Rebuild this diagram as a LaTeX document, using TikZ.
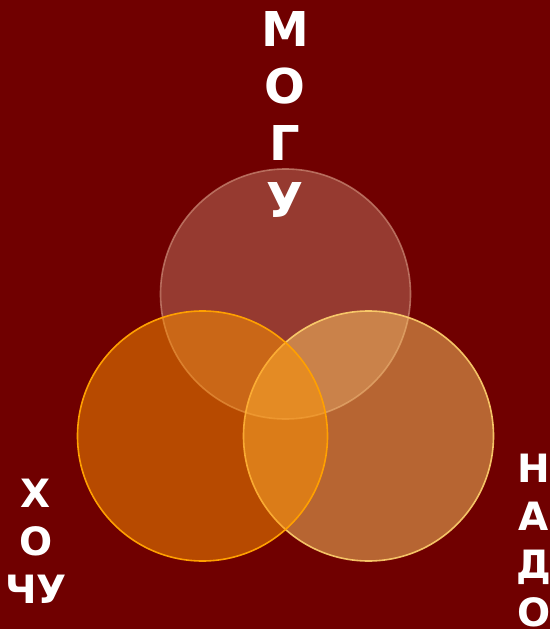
\documentclass[tikz,border=0pt]{standalone}
\usepackage{fontspec}
\setmainfont{DejaVu Sans}
\begin{document}
\begin{tikzpicture}[x=1pt,y=-1pt,
  venn/.style={fill opacity=0.5, line width=1.6pt},
  bigword/.style={text=white, font=\fontsize{48}{57}\selectfont\bfseries, anchor=base, inner sep=0pt},
  smallword/.style={text=white, font=\fontsize{39}{48}\selectfont\bfseries, anchor=base, inner sep=0pt}]
\definecolor{bgred}{RGB}{112,0,0}
\definecolor{topfill}{RGB}{188,116,96}
\definecolor{topline}{RGB}{205,140,120}
\definecolor{leftfill}{RGB}{255,148,0}
\definecolor{leftline}{RGB}{255,160,0}
\definecolor{rightfill}{RGB}{255,202,100}
\definecolor{rightline}{RGB}{255,210,110}
\fill[bgred] (0,0) rectangle (550,629);
\useasboundingbox (0,0) rectangle (550,629);
% circles: top, right, left (draw order)
\draw[venn, fill=topfill, draw=topline, draw opacity=0.7] (285.5,294) circle (125);
\draw[venn, fill=rightfill, draw=rightline, draw opacity=0.9] (368.5,436) circle (125);
\draw[venn, fill=leftfill, draw=leftline, draw opacity=1] (202.5,436) circle (125);
% top word
\node[bigword] (m1) at (285,46) {М};
\node[bigword] (m2) at (285,103) {О};
\node[bigword] (m3) at (285,160) {Г};
\node[bigword] (m4) at (285,217) {У};
% left word
\node[smallword] (h1) at (36,507) {Х};
\node[smallword] (h2) at (36,555) {О};
\node[smallword] (h3) at (36,603) {ЧУ};
% right word
\node[smallword] (n1) at (534,482) {Н};
\node[smallword] (n2) at (534,530) {А};
\node[smallword] (n3) at (534,578) {Д};
\node[smallword] (n4) at (534,626) {О};
\end{tikzpicture}
\end{document}
